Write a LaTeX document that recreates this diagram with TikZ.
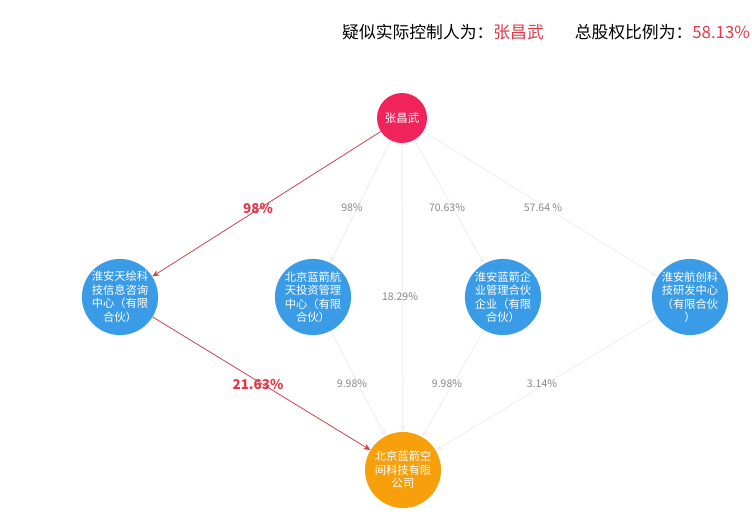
\documentclass[tikz,border=0pt]{standalone}
\usepackage{fontspec}
\setmainfont{Noto Sans CJK SC}
\usetikzlibrary{arrows.meta}
\definecolor{cred}{HTML}{F0245A}
\definecolor{cblue}{HTML}{3A9BE6}
\definecolor{corange}{HTML}{F8A00C}
\definecolor{lred}{HTML}{C8454F}
\definecolor{tred}{HTML}{E23A48}
\definecolor{faint}{HTML}{F0F0F0}
\definecolor{lbl}{HTML}{888888}
\begin{document}
\begin{tikzpicture}[x=1pt,y=-1pt,
  ent/.style={circle,minimum size=76pt,inner sep=0pt,text=white,font=\fontsize{11.3}{13.5}\selectfont,align=center},
  person/.style={circle,fill=cred,minimum size=50pt,inner sep=0pt,text=white,font=\fontsize{11.5}{13}\selectfont},
  strong/.style={draw=lred,line width=0.8pt,-{Stealth[length=7pt,width=6pt]}},
  weak/.style={draw=faint,line width=1pt,-{Stealth[length=7pt,width=6pt]}},
  redlbl/.style={text=tred,font=\bfseries\fontsize{13.5}{15}\selectfont},
  graylbl/.style={text=lbl,font=\fontsize{10.5}{12}\selectfont}]
\useasboundingbox[fill=white] (0,0) rectangle (752,525);
% title
\node[anchor=east,inner sep=0pt,font=\fontsize{16.8}{19}\selectfont] (t2) at (750,32) {总股权比例为：\textcolor{tred}{58.13\%}};
\node[anchor=east,inner sep=0pt,font=\fontsize{16.8}{19}\selectfont] (t1) at (544,32) {疑似实际控制人为：\textcolor{tred}{张昌武}};
% nodes
\node[person] (p) at (402,118) {张昌武};
\node[ent,fill=cblue] (a) at (120,297) {淮安天绘科\\技信息咨询\\中心（有限\\合伙）};
\node[ent,fill=cblue] (b) at (313,297) {北京蓝箭航\\天投资管理\\中心（有限\\合伙）};
\node[ent,fill=cblue] (c) at (503,297) {淮安蓝箭企\\业管理合伙\\企业（有限\\合伙）};
\node[ent,fill=cblue] (d) at (690,297) {淮安航创科\\技研发中心\\（有限合伙\\）};
\node[ent,fill=corange] (e) at (403,470) {北京蓝箭空\\间科技有限\\公司};
% edges
\draw[weak] (p) -- (b);
\draw[weak] (p) -- (c);
\draw[weak] (p) -- (d);
\draw[weak] (p) -- (e);
\draw[weak] (b) -- (e);
\draw[weak] (c) -- (e);
\draw[weak] (d) -- (e);
\draw[strong] (p) -- (a);
\draw[strong] (a) -- (e);
% labels
\node[redlbl] (l1) at (258,208) {98\%};
\node[graylbl] (l2) at (352,208) {98\%};
\node[graylbl] (l3) at (447,208) {70.63\%};
\node[graylbl] (l4) at (543,208) {57.64 \%};
\node[graylbl] (l5) at (400,297) {18.29\%};
\node[redlbl] (l6) at (258,384) {21.63\%};
\node[graylbl] (l7) at (352,384) {9.98\%};
\node[graylbl] (l8) at (447,384) {9.98\%};
\node[graylbl] (l9) at (542,384) {3.14\%};
\end{tikzpicture}
\end{document}
